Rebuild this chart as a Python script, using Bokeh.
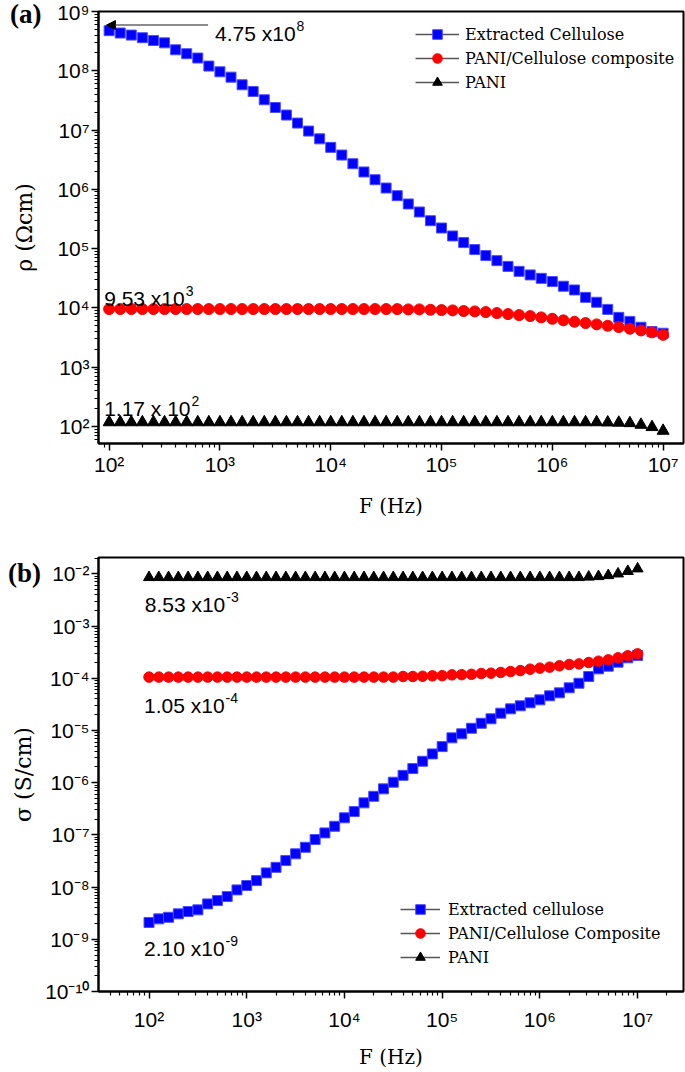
from bokeh.plotting import figure
from bokeh.models import (Range1d, FixedTicker, CustomJSTickFormatter, Legend,
                          LegendItem, Label, Arrow, NormalHead, GridBox, Div)
from bokeh.embed import file_html
from bokeh.resources import INLINE

# ---------------- data ----------------
FREQ_HZ = [100, 125.9, 158.5, 199.5, 251.2, 316.2, 398.1, 501.2, 631.0, 794.3,
           1000, 1259, 1585, 1995, 2512, 3162, 3981, 5012, 6310, 7943,
           1.0e4, 1.259e4, 1.585e4, 1.995e4, 2.512e4, 3.162e4, 3.981e4, 5.012e4, 6.310e4, 7.943e4,
           1.0e5, 1.259e5, 1.585e5, 1.995e5, 2.512e5, 3.162e5, 3.981e5, 5.012e5, 6.310e5, 7.943e5,
           1.0e6, 1.259e6, 1.585e6, 1.995e6, 2.512e6, 3.162e6, 3.981e6, 5.012e6, 6.310e6, 7.943e6,
           1.0e7]

RHO_CELLULOSE = [4.75e8, 4.33e8, 4.00e8, 3.61e8, 3.24e8, 2.96e8, 2.26e8, 1.94e8, 1.64e8, 1.20e8,
                 9.6e7, 7.8e7, 5.8e7, 4.48e7, 3.24e7, 2.40e7, 1.79e7, 1.31e7, 9.6e6, 7.1e6,
                 5.1e6, 3.78e6, 2.70e6, 1.96e6, 1.45e6, 1.05e6, 7.8e5, 5.65e5, 4.14e5, 2.95e5,
                 2.22e5, 1.63e5, 1.26e5, 9.6e4, 7.6e4, 6.25e4, 5.0e4, 4.12e4, 3.59e4, 3.14e4,
                 2.77e4, 2.31e4, 2.00e4, 1.50e4, 1.24e4, 9.4e3, 6.9e3, 5.9e3, 4.7e3, 3.97e3,
                 3.72e3]
RHO_COMPOSITE = [9530, 9530, 9530, 9530, 9530, 9530, 9530, 9530, 9530, 9530,
                 9530, 9530, 9530, 9530, 9530, 9530, 9530, 9530, 9530, 9530,
                 9530, 9530, 9530, 9530, 9530, 9530, 9500, 9400, 9400, 9270,
                 9160, 9040, 8810, 8690, 8470, 8150, 7830, 7530, 7240, 6890,
                 6530, 6140, 5810, 5520, 5250, 4980, 4730, 4430, 4150, 3850,
                 3500]
RHO_PANI = [117, 117, 117, 117, 117, 117, 117, 117, 117, 117,
            117, 117, 117, 117, 117, 117, 117, 117, 117, 117,
            117, 117, 117, 117, 117, 117, 117, 117, 117, 117,
            117, 117, 117, 117, 117, 117, 117, 117, 117, 117,
            117, 117, 117, 117, 117, 116, 115, 113, 106, 97,
            84]

SIGMA_CELLULOSE = [2.10e-9, 2.46e-9, 2.64e-9, 3.07e-9, 3.40e-9, 3.66e-9, 4.76e-9, 5.51e-9, 6.58e-9, 8.83e-9,
                   1.07e-8, 1.33e-8, 1.87e-8, 2.39e-8, 3.22e-8, 4.33e-8, 5.78e-8, 8.13e-8, 1.09e-7, 1.46e-7,
                   2.12e-7, 2.79e-7, 4.10e-7, 5.48e-7, 7.60e-7, 1.02e-6, 1.38e-6, 1.86e-6, 2.57e-6, 3.55e-6,
                   4.90e-6, 7.21e-6, 8.61e-6, 1.10e-5, 1.37e-5, 1.67e-5, 2.14e-5, 2.59e-5, 2.96e-5, 3.38e-5,
                   3.85e-5, 4.60e-5, 5.25e-5, 6.55e-5, 8.02e-5, 1.08e-4, 1.51e-4, 1.70e-4, 2.03e-4, 2.46e-4,
                   2.72e-4]
SIGMA_COMPOSITE = [1.05e-4, 1.05e-4, 1.05e-4, 1.05e-4, 1.05e-4, 1.05e-4, 1.05e-4, 1.05e-4, 1.05e-4, 1.05e-4,
                   1.05e-4, 1.05e-4, 1.05e-4, 1.05e-4, 1.05e-4, 1.05e-4, 1.05e-4, 1.05e-4, 1.05e-4, 1.05e-4,
                   1.05e-4, 1.05e-4, 1.05e-4, 1.05e-4, 1.05e-4, 1.05e-4, 1.08e-4, 1.08e-4, 1.09e-4, 1.11e-4,
                   1.12e-4, 1.16e-4, 1.17e-4, 1.19e-4, 1.23e-4, 1.25e-4, 1.29e-4, 1.34e-4, 1.40e-4, 1.49e-4,
                   1.56e-4, 1.63e-4, 1.73e-4, 1.83e-4, 1.88e-4, 2.00e-4, 2.12e-4, 2.25e-4, 2.46e-4, 2.69e-4,
                   2.93e-4]
SIGMA_PANI = [8.53e-3, 8.53e-3, 8.53e-3, 8.53e-3, 8.53e-3, 8.53e-3, 8.53e-3, 8.53e-3, 8.53e-3, 8.53e-3,
              8.53e-3, 8.53e-3, 8.53e-3, 8.53e-3, 8.53e-3, 8.53e-3, 8.53e-3, 8.53e-3, 8.53e-3, 8.53e-3,
              8.53e-3, 8.53e-3, 8.53e-3, 8.53e-3, 8.53e-3, 8.53e-3, 8.53e-3, 8.53e-3, 8.53e-3, 8.53e-3,
              8.53e-3, 8.53e-3, 8.53e-3, 8.53e-3, 8.53e-3, 8.53e-3, 8.53e-3, 8.53e-3, 8.53e-3, 8.53e-3,
              8.53e-3, 8.53e-3, 8.53e-3, 8.53e-3, 8.53e-3, 8.7e-3, 8.9e-3, 9.3e-3, 1.0e-2, 1.12e-2,
              1.25e-2]

LEGEND_A = ["Extracted Cellulose", "PANI/Cellulose composite", "PANI"]
LEGEND_B = ["Extracted cellulose", "PANI/Cellulose Composite", "PANI"]

X_TICKS = [1e2, 1e3, 1e4, 1e5, 1e6, 1e7]
RHO_TICKS = [1e2, 1e3, 1e4, 1e5, 1e6, 1e7, 1e8, 1e9]
SIGMA_TICKS = [1e-10, 1e-9, 1e-8, 1e-7, 1e-6, 1e-5, 1e-4, 1e-3, 1e-2]

# annotation texts: (main, superscript)
ANN_A = [("4.75 x10", "8"), ("9.53 x10", "3"), ("1.17 x 10", "2")]
ANN_B = [("8.53 x10", "-3"), ("1.05 x10", "-4"), ("2.10 x10", "-9")]
PANEL_TAGS = ["(a)", "(b)"]

# ---------------- helpers ----------------
SANS = "Liberation Sans"
SERIF = "DejaVu Serif"
NAN = float("nan")

SUP_JS = """
const e = Math.round(Math.log10(tick));
const m = {"0":"\\u2070","1":"\\u00b9","2":"\\u00b2","3":"\\u00b3","4":"\\u2074",
           "5":"\\u2075","6":"\\u2076","7":"\\u2077","8":"\\u2078","9":"\\u2079","-":"\\u207b"};
return "10" + String(e).split("").map(c => m[c]).join("");
"""


def minors(lo, hi):
    return [m * 10.0 ** e for e in range(lo, hi + 1) for m in range(2, 10)]


AW = {c: 0.556 for c in "0123456789"}
AW.update({".": 0.278, " ": 0.278, "x": 0.5, "-": 0.333})


def twidth(s, size):
    return sum(AW[c] for c in s) * size


def style(p, x_std, x_lab_std, y_lab_std):
    p.outline_line_color = "black"
    p.outline_line_width = 2
    p.xgrid.visible = False
    p.ygrid.visible = False
    p.background_fill_color = "white"
    p.border_fill_color = "white"
    for ax in (p.xaxis[0], p.yaxis[0]):
        ax.axis_line_width = 2
        ax.axis_line_color = "black"
        ax.major_tick_line_width = 1.5
        ax.minor_tick_line_width = 1.2
        ax.major_tick_line_color = "black"
        ax.minor_tick_line_color = "black"
        ax.major_tick_out = 7
        ax.major_tick_in = 0
        ax.minor_tick_out = 4
        ax.minor_tick_in = 0
        ax.major_label_text_font = SANS
        ax.major_label_text_font_size = "21px"
        ax.major_label_text_color = "black"
        ax.axis_label_text_font = SERIF
        ax.axis_label_text_font_size = "20px"
        ax.axis_label_text_font_style = "normal"
        ax.axis_label_text_color = "black"
        ax.formatter = CustomJSTickFormatter(code=SUP_JS)
    p.yaxis[0].axis_label_text_font_size = "22px"
    p.xaxis[0].major_label_standoff = x_std
    p.xaxis[0].axis_label_standoff = x_lab_std
    p.yaxis[0].major_label_standoff = 2
    p.yaxis[0].axis_label_standoff = y_lab_std


def add_series(p, ys, sizes):
    rs = []
    rs.append(p.scatter(FREQ_HZ, ys[0], marker="square", size=sizes[0],
                        fill_color="#0000ff", line_color="#4d4dff", line_width=1))
    rs.append(p.scatter(FREQ_HZ, ys[1], marker="circle", size=sizes[1],
                        fill_color="#ff0000", line_color="#ff0000", line_width=1))
    rs.append(p.scatter(FREQ_HZ, ys[2], marker="triangle", size=sizes[2],
                        fill_color="black", line_color="black", line_width=1))
    return rs


def add_legend(p, labels, rs, loc, gw, standoff):
    items = []
    for lab, r in zip(labels, rs):
        # legend-only line (no drawable points in the plot)
        lr = p.line(x=FREQ_HZ[:2], y=[NAN, NAN], line_color="#555555", line_width=1.5)
        items.append(LegendItem(label=lab, renderers=[lr, r]))
    leg = Legend(items=items, location=loc, glyph_width=gw, glyph_height=24,
                 label_height=24, spacing=0, padding=0, margin=0,
                 label_standoff=standoff, border_line_color=None,
                 background_fill_alpha=0, label_text_font=SERIF,
                 label_text_font_size="16px", label_text_color="black")
    p.add_layout(leg)


def add_ann(p, txt, sup, x, y):
    p.add_layout(Label(x=x, y=y, text=txt, text_font=SANS, text_font_size="21px",
                       text_color="black", text_baseline="alphabetic"))
    p.add_layout(Label(x=x, y=y, text=sup, text_font=SANS, text_font_size="14px",
                       text_color="black", text_baseline="alphabetic",
                       x_offset=twidth(txt, 21) + 1, y_offset=8))


def tag_div(text, left, top):
    html = ('<span style="position:relative;left:%dpx;top:%dpx;font-family:\'Liberation Serif\';'
            'font-weight:bold;font-size:27px;line-height:27px;color:black;">%s</span>' % (left, top, text))
    return Div(text=html, width=60, height=40)


# ---------------- panel (a) ----------------
p1 = figure(width=685, height=538, x_axis_type="log", y_axis_type="log",
            x_range=Range1d(10 ** 1.904, 10 ** 7.184), y_range=Range1d(10 ** 1.71, 1e9),
            output_backend="svg", toolbar_location=None,
            min_border_left=96, min_border_right=2, min_border_top=11, min_border_bottom=95)
style(p1, 2, 15, 17)
p1.xaxis[0].ticker = FixedTicker(ticks=X_TICKS, minor_ticks=minors(1, 7))
p1.yaxis[0].ticker = FixedTicker(ticks=RHO_TICKS, minor_ticks=minors(1, 9))
p1.xaxis[0].axis_label = "F (Hz)"
p1.yaxis[0].axis_label = "\u03c1 (\u03a9cm)"
rs1 = add_series(p1, [RHO_CELLULOSE, RHO_COMPOSITE, RHO_PANI], [10, 11, 12])
add_legend(p1, LEGEND_A, rs1, (317, 349), 44, 6)

p1.add_layout(Arrow(end=NormalHead(size=9, fill_color="black", line_color="black"),
                    x_start=10 ** 2.893, y_start=10 ** 8.771,
                    x_end=10 ** 1.976, y_end=10 ** 8.771,
                    line_color="#666666", line_width=1.5))
add_ann(p1, ANN_A[0][0], ANN_A[0][1], 10 ** 2.956, 10 ** 8.624)
add_ann(p1, ANN_A[1][0], ANN_A[1][1], 10 ** 1.955, 10 ** 4.150)
add_ann(p1, ANN_A[2][0], ANN_A[2][1], 10 ** 1.955, 10 ** 2.295)

# ---------------- panel (b) ----------------
p2 = figure(width=685, height=533, x_axis_type="log", y_axis_type="log",
            x_range=Range1d(10 ** 1.483, 10 ** 7.47), y_range=Range1d(1e-10, 10 ** -1.688),
            output_backend="svg", toolbar_location=None,
            min_border_left=98, min_border_right=1, min_border_top=19, min_border_bottom=80)
style(p2, 9, 11, 6)
p2.xaxis[0].ticker = FixedTicker(ticks=X_TICKS, minor_ticks=minors(1, 7))
p2.yaxis[0].ticker = FixedTicker(ticks=SIGMA_TICKS, minor_ticks=minors(-10, -2))
p2.xaxis[0].axis_label = "F (Hz)"
p2.yaxis[0].axis_label = "\u03c3 (S/cm)"
rs2 = add_series(p2, [SIGMA_CELLULOSE, SIGMA_COMPOSITE, SIGMA_PANI], [10, 10.5, 11])
add_legend(p2, LEGEND_B, rs2, (302, 22), 40, 8)

add_ann(p2, ANN_B[0][0], ANN_B[0][1], 10 ** 1.956, 10 ** -2.594)
add_ann(p2, ANN_B[1][0], ANN_B[1][1], 10 ** 1.949, 10 ** -4.523)
add_ann(p2, ANN_B[2][0], ANN_B[2][1], 10 ** 1.949, 10 ** -9.184)

layout = GridBox(children=[(p1, 0, 0), (tag_div(PANEL_TAGS[0], 5, -4), 0, 0),
                           (p2, 1, 0), (tag_div(PANEL_TAGS[1], 3, 17), 1, 0)])
open("out.html", "w", encoding="utf-8").write(file_html(layout, INLINE))
